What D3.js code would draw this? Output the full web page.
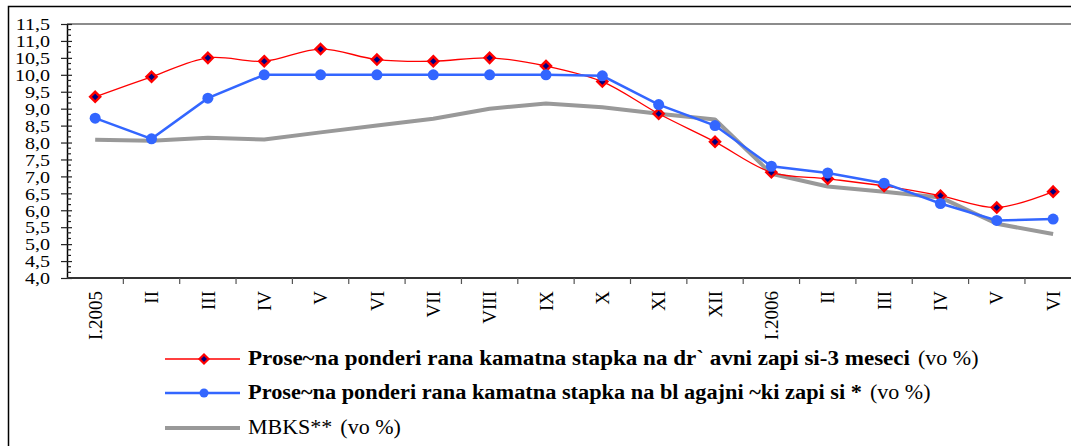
<!DOCTYPE html>
<html>
<head>
<meta charset="utf-8">
<script src="https://cdn.jsdelivr.net/npm/d3@7"></script>
<style>
  body { margin: 0; background: #fff; }
  svg { display: block; }
</style>
</head>
<body>
<svg id="chart" width="1071" height="446"></svg>
<script>
// Month labels along the x axis
const months = ["I.2005", "II", "III", "IV", "V", "VI", "VII", "VIII", "IX", "X", "XI", "XII",
                "I.2006", "II", "III", "IV", "V", "VI"];

// Average weighted rate on 3-month government bills (%)
const billsRate = [9.35, 9.94, 10.50, 10.40, 10.76, 10.45, 10.40, 10.50, 10.26, 9.80, 8.85, 8.02,
                   7.12, 6.93, 6.72, 6.43, 6.08, 6.55];
// Average weighted rate on central bank bills (%)
const treasuryRate = [8.72, 8.11, 9.31, 10.00, 10.00, 10.00, 10.00, 10.00, 10.00, 9.97, 9.12, 8.50,
                      7.30, 7.10, 6.80, 6.20, 5.70, 5.74];
// Interbank money market rate (%)
const mbks = [8.08, 8.05, 8.14, 8.09, 8.30, 8.50, 8.70, 9.00, 9.15, 9.04, 8.85, 8.68,
              7.08, 6.70, 6.55, 6.38, 5.60, 5.30];

// Y axis labelled values
const yTicks = d3.range(8, 24).map(d => d / 2);

const seriesLabels = [
  { main: "Prose~na ponderi rana kamatna stapka na dr` avni zapi si-3 meseci", unit: "(vo %)" },
  { main: "Prose~na ponderi rana kamatna stapka na bl agajni ~ki zapi si *", unit: "(vo %)" },
  { main: "MBKS**", unit: "(vo %)" }
];

const svg = d3.select("#chart");

// Frame around the whole figure
svg.append("rect")
  .attr("x", 8.5).attr("y", 6.5)
  .attr("width", 1100).attr("height", 500)
  .attr("fill", "none").attr("stroke", "#000").attr("stroke-width", 1.5);

const plot = { left: 67, top: 24, bottom: 278, step: 56.35 };

const x = d3.scaleBand()
  .domain(d3.range(months.length))
  .range([plot.left, plot.left + plot.step * months.length])
  .padding(0);

const y = d3.scaleLinear().domain([4, 11.5]).range([plot.bottom, plot.top]);

const cx = i => x(i) + x.bandwidth() / 2;

// Upper edge of plot area
svg.append("line")
  .attr("x1", plot.left).attr("x2", 1071)
  .attr("y1", plot.top).attr("y2", plot.top)
  .attr("stroke", "#8c8c8c").attr("stroke-width", 2);

// Y axis
const yAxis = svg.append("g")
  .attr("transform", `translate(${plot.left},0)`)
  .call(d3.axisLeft(y)
    .tickValues(yTicks)
    .tickSizeInner(6)
    .tickSizeOuter(0)
    .tickFormat(d => d3.format(".1f")(d).replace(".", ",")));
yAxis.select(".domain").attr("stroke", "#000").attr("stroke-width", 1.5);
yAxis.selectAll(".tick line").attr("x2", -6).attr("x1", 5).attr("stroke", "#222").attr("stroke-width", 1.2);
yAxis.selectAll(".tick text")
  .attr("x", 0).attr("dy", "0.34em")
  .attr("transform", "translate(-17,0) scale(1.18,1)")
  .attr("font-family", "'Liberation Serif', 'Times New Roman', serif")
  .attr("font-size", 17)
  .attr("fill", "#000");

// Minor ticks on the inside of the y axis
const minor = d3.range(24, 69).filter(k => k % 3 !== 0).map(k => k / 6);
svg.append("g").selectAll("line").data(minor).join("line")
  .attr("x1", plot.left).attr("x2", plot.left + 4)
  .attr("y1", d => y(d)).attr("y2", d => y(d))
  .attr("stroke", "#222").attr("stroke-width", 1.2);

// X axis
const xAxis = svg.append("g");
xAxis.append("line")
  .attr("x1", plot.left).attr("x2", 1071)
  .attr("y1", plot.bottom).attr("y2", plot.bottom)
  .attr("stroke", "#333").attr("stroke-width", 2);
xAxis.selectAll("line.tick").data(d3.range(1, months.length)).join("line")
  .attr("class", "tick")
  .attr("x1", d => x(d)).attr("x2", d => x(d))
  .attr("y1", plot.bottom).attr("y2", plot.bottom + 6)
  .attr("stroke", "#555").attr("stroke-width", 1.2);
xAxis.selectAll("text").data(months).join("text")
  .attr("transform", (d, i) => `translate(${cx(i)},${plot.bottom + 13}) rotate(-90)`)
  .attr("text-anchor", "end")
  .attr("dy", "0.35em")
  .attr("font-family", "'Liberation Serif', 'Times New Roman', serif")
  .attr("font-size", 19)
  .attr("fill", "#000")
  .text(d => d);

// Lines
const straight = d3.line().x((d, i) => cx(i)).y(d => y(d));
const smooth = d3.line().x((d, i) => cx(i)).y(d => y(d)).curve(d3.curveCatmullRom.alpha(0.5));

const diamond = h => `M0,${-h}L${h},0L0,${h}L${-h},0Z`;

svg.append("path").datum(mbks)
  .attr("d", straight).attr("fill", "none")
  .attr("stroke", "#999").attr("stroke-width", 4).attr("stroke-linejoin", "round");

svg.append("path").datum(billsRate)
  .attr("d", smooth).attr("fill", "none")
  .attr("stroke", "#ff0000").attr("stroke-width", 1.3);
svg.append("g").selectAll("path").data(billsRate).join("path")
  .attr("transform", (d, i) => `translate(${cx(i)},${y(d)})`)
  .attr("d", diamond(5))
  .attr("fill", "#000080").attr("stroke", "#ff0000").attr("stroke-width", 2.5);

svg.append("path").datum(treasuryRate)
  .attr("d", straight).attr("fill", "none")
  .attr("stroke", "#3366ff").attr("stroke-width", 2.5);
svg.append("g").selectAll("circle").data(treasuryRate).join("circle")
  .attr("cx", (d, i) => cx(i)).attr("cy", d => y(d)).attr("r", 5.5)
  .attr("fill", "#3366ff");

// Legend
const legendRows = [359, 393, 428];
const legend = svg.append("g");
const lx1 = 165, lx2 = 240, lmid = 204, tx = 248;

legend.append("line").attr("x1", lx1).attr("x2", lx2).attr("y1", legendRows[0]).attr("y2", legendRows[0])
  .attr("stroke", "#ff0000").attr("stroke-width", 1.6);
legend.append("path").attr("transform", `translate(${lmid},${legendRows[0]})`)
  .attr("d", diamond(4.5)).attr("fill", "#000080").attr("stroke", "#ff0000").attr("stroke-width", 2.2);

legend.append("line").attr("x1", lx1).attr("x2", lx2).attr("y1", legendRows[1]).attr("y2", legendRows[1])
  .attr("stroke", "#3366ff").attr("stroke-width", 2.5);
legend.append("circle").attr("cx", lmid).attr("cy", legendRows[1]).attr("r", 4.5).attr("fill", "#3366ff");

legend.append("line").attr("x1", lx1).attr("x2", lx2).attr("y1", legendRows[2]).attr("y2", legendRows[2])
  .attr("stroke", "#999").attr("stroke-width", 4);

const mainWidths = [662, 614, null];
seriesLabels.forEach((s, i) => {
  const t = legend.append("text")
    .attr("x", tx).attr("y", legendRows[i] + 6)
    .attr("fill", "#000");
  const m = t.append("tspan").text(s.main);
  if (i < 2) {
    m.attr("font-family", "'Liberation Serif', serif")
      .attr("font-weight", "bold")
      .attr("font-size", 20)
      .attr("textLength", mainWidths[i])
      .attr("lengthAdjust", "spacingAndGlyphs");
  } else {
    m.attr("font-family", "'Liberation Serif', serif").attr("font-size", 22);
  }
  t.append("tspan").attr("dx", 8)
    .attr("font-family", "'Liberation Serif', serif")
    .attr("font-size", 22)
    .text(s.unit);
});
</script>
</body>
</html>
